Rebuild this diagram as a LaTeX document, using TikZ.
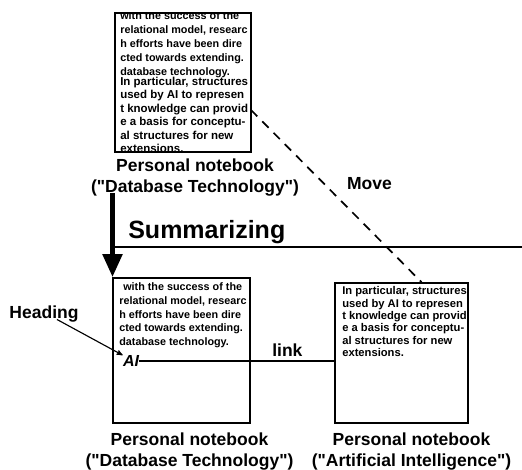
\documentclass[tikz,border=0pt]{standalone}
\usepackage{fontspec}
\setmainfont{Liberation Sans}
\usetikzlibrary{arrows,arrows.meta,positioning}

\begin{document}
\begin{tikzpicture}[x=1pt,y=-1pt,>=stealth',semithick]
  \tikzstyle{notebook}=[draw=black,line width=.6mm,inner sep=0pt]
  \tikzstyle{page}=[anchor=north west,inner sep=0pt,align=left]
  \tikzstyle{caption}=[inner sep=0pt,align=center,font=\bfseries\fontsize{17.5}{21}\selectfont]
  \useasboundingbox (0,0) rectangle (522,470);

  % the three notebooks
  \node[notebook,minimum width=136pt,minimum height=139pt] (T) at (183,82.5) {};
  \node[notebook,minimum width=137pt,minimum height=145pt] (D) at (181.5,350.5) {};
  \node[notebook,minimum width=133pt,minimum height=140pt] (I) at (401.5,353) {};

  \begin{scope}
    \clip (T.north west) rectangle (T.south east);
    \node[page,font=\bfseries\fontsize{10.8}{14}\selectfont] (T1) at (120,11.5)
      {with the success of the\\relational model, researc\\h efforts have been dire\\cted towards extending.\\database technology.};
    \node[page,font=\bfseries\fontsize{11.5}{13.5}\selectfont] (T2) at (120,76.5)
      {In particular, structures\\used by AI to represen\\t knowledge can provid\\e a basis for conceptu-\\al structures for new\\extensions.};
  \end{scope}

  \node[page,font=\bfseries\fontsize{10.8}{13.7}\selectfont] (D1) at (119,282.5)
    {\hspace{4pt}with the success of the\\relational model, researc\\h efforts have been dire\\cted towards extending.\\database technology.};
  \node[page,font=\bfseries\fontsize{11.2}{12.3}\selectfont] (I1) at (342,286.5)
    {In particular, structures\\used by AI to represen\\t knowledge can provid\\e a basis for conceptu-\\al structures for new\\extensions.};

  \node[inner sep=0pt,font=\bfseries\itshape\fontsize{16}{16}\selectfont] (K) at (131,361) {AI};

  % captions
  \node[caption] (TL) [below=6pt of T,xshift=12pt] {Personal notebook\\(\textquotedbl Database Technology\textquotedbl)};
  \node[caption] (DL) [below=9pt of D,xshift=8pt] {Personal notebook\\(\textquotedbl Database Technology\textquotedbl)};
  \node[caption] (IL) [below=9pt of I,xshift=10pt] {Personal notebook\\(\textquotedbl Artificial Intelligence\textquotedbl)};
  \node[caption] (H) at (44,314) {Heading};
  \node[anchor=base west,inner sep=0pt,font=\bfseries\fontsize{25}{25}\selectfont] (SUM) at (128,239) {Summarizing};

  % summarizing arrow and rule
  \coordinate (S) at (112.5,193);
  \coordinate (SL) at (112,247);
  \coordinate (SR) at (522,247);
  \draw[line width=.8mm] (SL) -- (SR);
  \draw[line width=5pt,-{Triangle[width=19pt,length=23pt]}] (S) -- (S |- D.north);

  % move, heading and link
  \coordinate (M) at (251,110);
  \draw[line width=.6mm,dash pattern=on 9pt off 7pt] (M) -- node[caption,pos=.43,right=22pt] (MV) {Move} ([xshift=20pt]I.north);
  \draw[->,line width=.4mm] ([xshift=13pt,yshift=3pt]H.south) -- (K.north west);
  \draw[line width=.4mm] (K.east) -- node[caption,pos=.76,above=4pt] (LK) {link} (K.east -| I.west);
\end{tikzpicture}
\end{document}
